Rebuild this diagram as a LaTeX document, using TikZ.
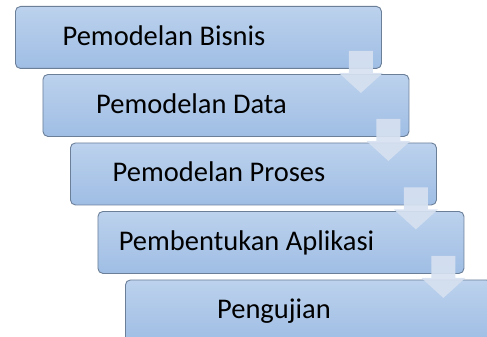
\documentclass[tikz,border=0pt]{standalone}
\usepackage{fontspec}
\setmainfont{Carlito}
\usetikzlibrary{calc}
\definecolor{boxtop}{HTML}{BCD2ED}
\definecolor{boxbot}{HTML}{9FBDE4}
\definecolor{boxline}{HTML}{6B7F98}
\definecolor{arrowfill}{HTML}{D6E1F0}
\begin{document}
\begin{tikzpicture}[x=1pt,y=-1pt,
  stepbox/.style={draw=boxline, line width=0.9pt, rounded corners=5pt,
    top color=boxtop, bottom color=boxbot,
    minimum width=366pt, minimum height=62pt, anchor=north west, inner sep=0pt},
  steplabel/.style={font=\fontsize{28.5}{32}\selectfont, anchor=base, inner sep=0pt},
  flowarrow/.style={fill=arrowfill, fill opacity=0.92, draw=none}]
\useasboundingbox (0,0) rectangle (487,337);
\node[stepbox] (b1) at (15,6) {};
\node[stepbox] (b2) at (42.5,74) {};
\node[stepbox] (b3) at (70,142.5) {};
\node[stepbox] (b4) at (97.5,211) {};
\node[stepbox] (b5) at (125,279.5) {};
\node[steplabel] (t1) at ($(b1.west)+(149,8)$) {Pemodelan Bisnis};
\node[steplabel] (t2) at ($(b2.west)+(149,8)$) {Pemodelan Data};
\node[steplabel] (t3) at ($(b3.west)+(149,8)$) {Pemodelan Proses};
\node[steplabel] (t4) at ($(b4.west)+(149,8)$) {Pembentukan Aplikasi};
\node[steplabel] (t5) at ($(b5.west)+(149,8)$) {Pengujian};
\foreach \b in {b1,b2,b3,b4}{
  \fill[flowarrow]
    ($(\b.south east)+(-33,-18)$) -- ($(\b.south east)+(-33,4)$)
    -- ($(\b.south east)+(-43,4)$) -- ($(\b.south east)+(-21,24)$)
    -- ($(\b.south east)+(1,4)$) -- ($(\b.south east)+(-9,4)$)
    -- ($(\b.south east)+(-9,-18)$) -- cycle;
}
\end{tikzpicture}
\end{document}
